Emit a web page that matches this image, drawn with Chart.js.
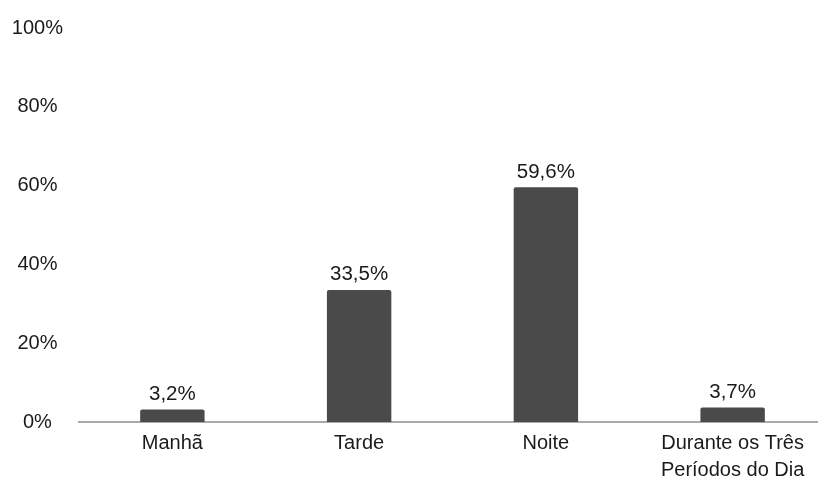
<!DOCTYPE html>
<html>
<head>
<meta charset="utf-8">
<script src="https://cdn.jsdelivr.net/npm/chart.js@4/dist/chart.umd.min.js"></script>
<style>
  html, body { margin: 0; padding: 0; background: #fff; overflow: hidden; }
  #wrap { width: 826px; height: 480px; }
</style>
</head>
<body>
<div id="wrap"><canvas id="periodChart"></canvas></div>
<script>
const categories = ['Manhã', 'Tarde', 'Noite', ['Durante os Três', 'Períodos do Dia']];
const values = [3.2, 33.5, 59.6, 3.7];
const yTicks = [0, 20, 40, 60, 80, 100];

// Draw the value above each bar, with a comma as decimal separator
const valueLabels = {
    id: 'valueLabels',
    afterDatasetsDraw(chart) {
        const ctx = chart.ctx;
        const meta = chart.getDatasetMeta(0);
        ctx.save();
        ctx.font = '20.5px "Liberation Sans", Arial, sans-serif';
        ctx.fillStyle = '#1a1a1a';
        ctx.textAlign = 'center';
        ctx.textBaseline = 'bottom';
        meta.data.forEach((bar, i) => {
            const text = values[i].toFixed(1).replace('.', ',') + '%';
            ctx.fillText(text, bar.x, bar.y - 5);
        });
        ctx.restore();
    }
};

new Chart(document.getElementById('periodChart'), {
    type: 'bar',
    data: {
        labels: categories,
        datasets: [{
            data: values,
            backgroundColor: '#4a4a4a',
            borderRadius: 2,
            barPercentage: 0.345,
            categoryPercentage: 1
        }]
    },
    options: {
        responsive: true,
        maintainAspectRatio: false,
        animation: false,
        layout: { padding: { top: 22, right: 0, bottom: 0, left: 0 } },
        plugins: {
            legend: { display: false },
            tooltip: { enabled: false }
        },
        scales: {
            x: {
                afterFit(axis) {
                    axis.height = 58;
                },
                grid: { display: false, drawTicks: false },
                border: { display: true, color: '#aaaaaa', width: 2 },
                ticks: {
                    color: '#1a1a1a',
                    padding: 8,
                    maxRotation: 0,
                    font: { family: '"Liberation Sans", Arial, sans-serif', size: 20, lineHeight: 1.35 }
                }
            },
            y: {
                min: 0,
                max: 100,
                afterBuildTicks(axis) {
                    axis.ticks = yTicks.map(v => ({ value: v }));
                },
                afterFit(axis) {
                    axis.width = 79;
                },
                grid: { display: false, drawTicks: false },
                border: { display: false },
                ticks: {
                    color: '#1a1a1a',
                    crossAlign: 'center',
                    padding: 16,
                    font: { family: '"Liberation Sans", Arial, sans-serif', size: 20 },
                    callback: v => v + '%'
                }
            }
        }
    },
    plugins: [valueLabels]
});
</script>
</body>
</html>
